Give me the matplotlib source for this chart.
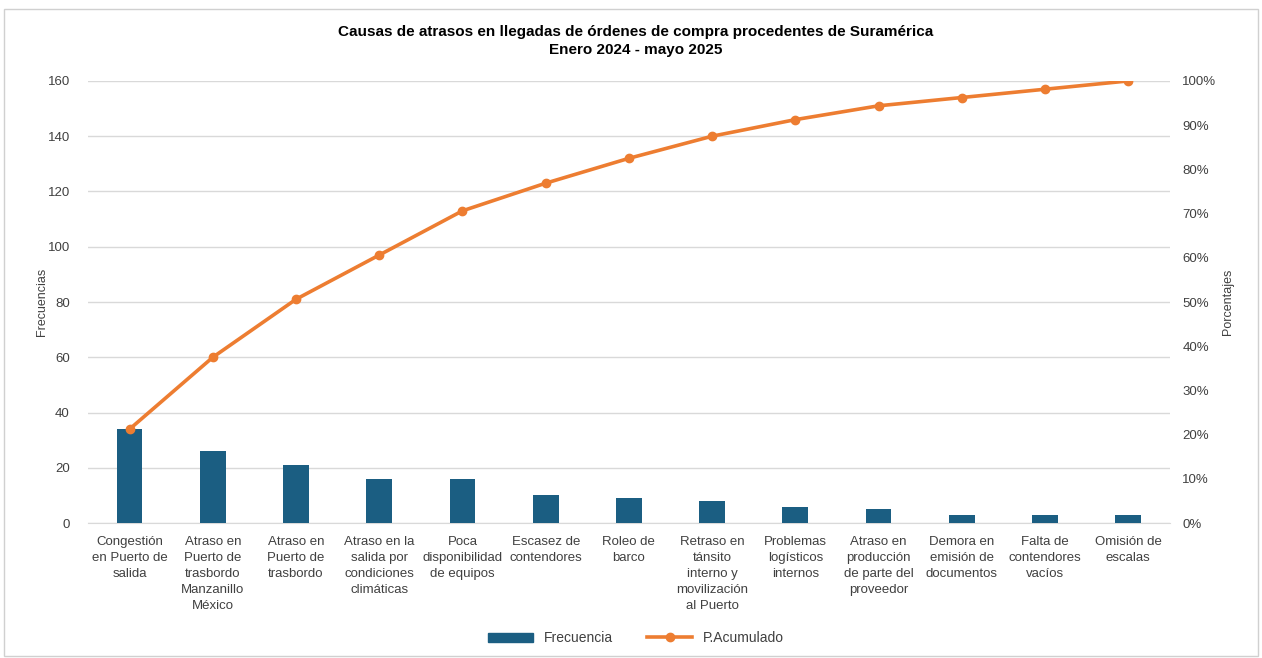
import numpy as np
import matplotlib.pyplot as plt
from matplotlib.lines import Line2D
from matplotlib.patches import Patch, Rectangle

plt.rcParams['font.family'] = ['Liberation Sans', 'DejaVu Sans']

# === Data ===
causas = [
    "Congestión\nen Puerto de\nsalida",
    "Atraso en\nPuerto de\ntrasbordo\nManzanillo\nMéxico",
    "Atraso en\nPuerto de\ntrasbordo",
    "Atraso en la\nsalida por\ncondiciones\nclimáticas",
    "Poca\ndisponibilidad\nde equipos",
    "Escasez de\ncontendores",
    "Roleo de\nbarco",
    "Retraso en\ntánsito\ninterno y\nmovilización\nal Puerto",
    "Problemas\nlogísticos\ninternos",
    "Atraso en\nproducción\nde parte del\nproveedor",
    "Demora en\nemisión de\ndocumentos",
    "Falta de\ncontendores\nvacíos",
    "Omisión de\nescalas",
]
frecuencia = [34, 26, 21, 16, 16, 10, 9, 8, 6, 5, 3, 3, 3]

# cumulative percentage for the Pareto line
acumulado = np.cumsum(frecuencia) / sum(frecuencia) * 100

BAR = "#1b5e82"
LINE = "#ed7d31"
GRID = "#d9d9d9"
TXT = "#404040"

fig = plt.figure(figsize=(12.62, 6.58), dpi=100)
fig.patches.append(Rectangle((0.003, 0.003), 0.994, 0.983, transform=fig.transFigure,
                             fill=False, edgecolor="#d0d0d0", linewidth=1))
ax = fig.add_axes([0.0697, 0.205, 0.8573, 0.672])
x = np.arange(len(causas))
ax.bar(x, frecuencia, width=0.31, color=BAR, zorder=3)
ax.set_xlim(-0.5, len(causas) - 0.5)
ax.set_ylim(0, 160)
ax.set_yticks(range(0, 161, 20))
ax.set_xticks(x)
ax.set_xticklabels(causas, fontsize=9.5, color=TXT, linespacing=1.45, va="top")
ax.tick_params(axis="both", length=0, colors=TXT, labelsize=9.5)
ax.tick_params(axis="x", pad=9)
ax.tick_params(axis="y", pad=13)
ax.grid(axis="y", color=GRID, linewidth=1, zorder=0)
for side in ["top", "right", "left"]:
    ax.spines[side].set_visible(False)
ax.spines["bottom"].set_color(GRID)
ax.set_ylabel("Frecuencias", fontsize=9, color=TXT, labelpad=0)

ax2 = ax.twinx()
ax2.plot(x, acumulado, color=LINE, linewidth=2.6, marker="o", markersize=6, zorder=4)
ax2.set_ylim(0, 100)
ax2.set_yticks(range(0, 101, 10))
ax2.set_yticklabels([f"{v}%" for v in range(0, 101, 10)])
ax2.tick_params(axis="y", length=0, colors=TXT, labelsize=9.5, pad=9)
for side in ["top", "right", "left", "bottom"]:
    ax2.spines[side].set_visible(False)
ax2.set_ylabel("Porcentajes", fontsize=9, color=TXT, labelpad=4)

fig.suptitle("Causas de atrasos en llegadas de órdenes de compra procedentes de Suramérica\n"
             "Enero 2024 - mayo 2025", fontsize=11, fontweight="bold", color="black",
             x=0.504, y=0.962, linespacing=1.35)

handles = [Patch(color=BAR), Line2D([], [], color=LINE, linewidth=2.6, marker="o", markersize=6)]
fig.legend(handles, ["Frecuencia", "P.Acumulado"], loc="center", bbox_to_anchor=(0.504, 0.03),
           ncol=2, frameon=False, fontsize=10, handlelength=3.2, columnspacing=2.5,
           labelcolor=TXT)

plt.savefig("out.png", dpi=100)
